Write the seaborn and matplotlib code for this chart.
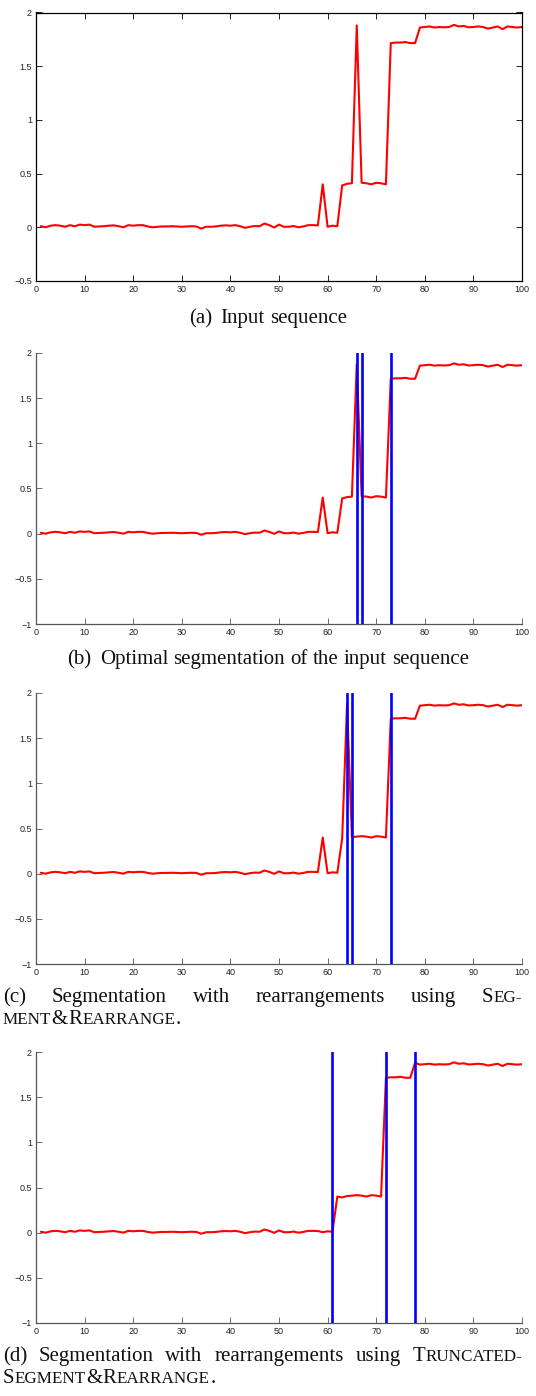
import matplotlib
matplotlib.use("Agg")
import matplotlib.pyplot as plt
import seaborn as sns
import pandas as pd

# ---------------- data ----------------
x_pos = list(range(1, 101))

seq_input = [
    0.010, 0.000, 0.015, 0.020, 0.015, 0.005, 0.020, 0.010, 0.025, 0.020,
    0.025, 0.005, 0.008, 0.010, 0.015, 0.018, 0.010, 0.000, 0.020, 0.015,
    0.020, 0.020, 0.008, 0.000, 0.005, 0.008, 0.008, 0.010, 0.008, 0.005,
    0.008, 0.010, 0.008, -0.012, 0.005, 0.005, 0.008, 0.015, 0.018, 0.015,
    0.020, 0.010, -0.005, 0.005, 0.012, 0.010, 0.035, 0.020, -0.002, 0.025,
    0.005, 0.005, 0.012, 0.000, 0.008, 0.020, 0.020, 0.018, 0.400, 0.005,
    0.015, 0.010, 0.390, 0.405, 0.410, 1.880, 0.415, 0.410, 0.400, 0.415,
    0.410, 0.400, 1.715, 1.720, 1.720, 1.725, 1.715, 1.715, 1.860, 1.865,
    1.870, 1.860, 1.865, 1.862, 1.865, 1.885, 1.870, 1.875, 1.862, 1.865,
    1.870, 1.865, 1.850, 1.860, 1.870, 1.845, 1.870, 1.865, 1.860, 1.865,
]

seq_seg_rearrange = [
    0.010, 0.000, 0.015, 0.020, 0.015, 0.005, 0.020, 0.010, 0.025, 0.020,
    0.025, 0.005, 0.008, 0.010, 0.015, 0.018, 0.010, 0.000, 0.020, 0.015,
    0.020, 0.020, 0.008, 0.000, 0.005, 0.008, 0.008, 0.010, 0.008, 0.005,
    0.008, 0.010, 0.008, -0.012, 0.005, 0.005, 0.008, 0.015, 0.018, 0.015,
    0.020, 0.010, -0.005, 0.005, 0.012, 0.010, 0.035, 0.020, -0.002, 0.025,
    0.005, 0.005, 0.012, 0.000, 0.008, 0.020, 0.020, 0.018, 0.400, 0.005,
    0.015, 0.010, 0.390, 1.880, 0.405, 0.410, 0.415, 0.410, 0.400, 0.415,
    0.410, 0.400, 1.715, 1.720, 1.720, 1.725, 1.715, 1.715, 1.860, 1.865,
    1.870, 1.860, 1.865, 1.862, 1.865, 1.885, 1.870, 1.875, 1.862, 1.865,
    1.870, 1.865, 1.850, 1.860, 1.870, 1.845, 1.870, 1.865, 1.860, 1.865,
]

seq_truncated = [
    0.010, 0.000, 0.015, 0.020, 0.015, 0.005, 0.020, 0.010, 0.025, 0.020,
    0.025, 0.005, 0.008, 0.010, 0.015, 0.018, 0.010, 0.000, 0.020, 0.015,
    0.020, 0.020, 0.008, 0.000, 0.005, 0.008, 0.008, 0.010, 0.008, 0.005,
    0.008, 0.010, 0.008, -0.012, 0.005, 0.005, 0.008, 0.015, 0.018, 0.015,
    0.020, 0.010, -0.005, 0.005, 0.012, 0.010, 0.035, 0.020, -0.002, 0.025,
    0.005, 0.005, 0.012, 0.000, 0.008, 0.020, 0.020, 0.018, 0.005, 0.015,
    0.010, 0.400, 0.390, 0.405, 0.410, 0.415, 0.410, 0.400, 0.415, 0.410,
    0.400, 1.715, 1.720, 1.720, 1.725, 1.715, 1.715, 1.880, 1.860, 1.865,
    1.870, 1.860, 1.865, 1.862, 1.865, 1.885, 1.870, 1.875, 1.862, 1.865,
    1.870, 1.865, 1.850, 1.860, 1.870, 1.845, 1.870, 1.865, 1.860, 1.865,
]

bounds_optimal = [66, 67, 73]
bounds_seg_rearrange = [64, 65, 73]
bounds_truncated = [61, 72, 78]

x_ticks = [0, 10, 20, 30, 40, 50, 60, 70, 80, 90, 100]
x_tick_labels = ["0", "10", "20", "30", "40", "50", "60", "70", "80", "90", "100"]
y_ticks_a = [-0.5, 0, 0.5, 1, 1.5, 2]
y_tick_labels_a = ["\u22120.5", "0", "0.5", "1", "1.5", "2"]
y_ticks_b = [-1, -0.5, 0, 0.5, 1, 1.5, 2]
y_tick_labels_b = ["\u22121", "\u22120.5", "0", "0.5", "1", "1.5", "2"]

# ---------------- figure ----------------
sns.set_theme(style="white")
plt.rcParams["font.family"] = ["Liberation Sans", "DejaVu Sans"]

W, H = 536, 1396
fig = plt.figure(figsize=(W / 100, H / 100), dpi=100)
fig.patch.set_facecolor("white")


def add_ax(l, r, t, b):
    return fig.add_axes([l / W, 1 - b / H, (r - l) / W, (b - t) / H])


panels = [
    dict(rect=(36, 522, 12.5, 281), y=seq_input, bounds=[], box=True,
         ylim=(-0.5, 2), yt=y_ticks_a, ytl=y_tick_labels_a),
    dict(rect=(36, 522, 353, 624), y=seq_input, bounds=bounds_optimal, box=False,
         ylim=(-1, 2), yt=y_ticks_b, ytl=y_tick_labels_b),
    dict(rect=(36, 522, 693, 964), y=seq_seg_rearrange, bounds=bounds_seg_rearrange, box=False,
         ylim=(-1, 2), yt=y_ticks_b, ytl=y_tick_labels_b),
    dict(rect=(36, 522, 1052, 1323), y=seq_truncated, bounds=bounds_truncated, box=False,
         ylim=(-1, 2), yt=y_ticks_b, ytl=y_tick_labels_b),
]

for p in panels:
    ax = add_ax(*p["rect"])
    ax.set_facecolor("white")
    df = pd.DataFrame({"x": x_pos, "y": p["y"]})
    sns.lineplot(data=df, x="x", y="y", ax=ax, color="#ff0000", linewidth=1.5, zorder=2)
    for b in p["bounds"]:
        ax.axvline(b, color="#0000ff", linewidth=1.9, zorder=3)
    ax.set_xlim(0, 100)
    ax.set_ylim(*p["ylim"])
    ax.set_xticks(x_ticks)
    ax.set_xticklabels(x_tick_labels)
    ax.set_yticks(p["yt"])
    ax.set_yticklabels(p["ytl"])
    ax.set_xlabel("")
    ax.set_ylabel("")
    ax.grid(False)
    if p["box"]:
        spine_col = "#000000"
        for s in ax.spines.values():
            s.set_visible(True)
            s.set_color(spine_col)
            s.set_linewidth(0.9)
        ax.tick_params(top=True, right=True)
    else:
        spine_col = "#555555"
        ax.spines["top"].set_visible(False)
        ax.spines["right"].set_visible(False)
        for k in ("left", "bottom"):
            ax.spines[k].set_color(spine_col)
            ax.spines[k].set_linewidth(0.9)
    ax.tick_params(axis="both", direction="in", length=4, width=0.6,
                   color=spine_col, labelsize=6.5, labelcolor="#222222", pad=3,
                   left=True, bottom=True)

# ---------------- captions ----------------
renderer = fig.canvas.get_renderer()
SERIF = ["Liberation Serif", "DejaVu Serif"]
CAP = 15.0
SC = 0.82
PGAP = 0.3


def piece_width(s, size):
    t = fig.text(0, 0, s, fontsize=size, family=SERIF)
    w = t.get_window_extent(renderer).width
    t.remove()
    return w


def word_width(word):
    return sum(piece_width(s, CAP * sc) for s, sc in word) + PGAP * (len(word) - 1)


def draw_word(word, x_px, y_px):
    x = x_px
    for s, sc in word:
        fig.text(x / W, 1 - y_px / H, s, fontsize=CAP * sc, family=SERIF,
                 color="#111111", ha="left", va="baseline")
        x += piece_width(s, CAP * sc) + PGAP


def draw_line(words, y_px, mode, left=3.0, right=522.0, center=268.0, gaps=None):
    ws = [word_width(w) for w in words]
    space = 0.25 * CAP * 100 / 72
    if gaps is None:
        gaps = [space] * (len(words) - 1)
    if mode == "justify":
        g = (right - left - sum(ws)) / (len(words) - 1)
        gaps = [g] * (len(words) - 1)
        x = left
    elif mode == "left":
        x = left
    else:
        total = sum(ws) + sum(gaps)
        x = center - total / 2
    for i, w in enumerate(words):
        draw_word(w, x, y_px)
        x += ws[i] + (gaps[i] if i < len(gaps) else 0)


def plain(*ws):
    return [[(w, 1.0)] for w in ws]


space = 0.25 * CAP * 100 / 72
cap_a = plain("(a)", "Input", "sequence")
draw_line(cap_a, 323, "center", gaps=[space * 1.6, space])
cap_b = plain("(b)", "Optimal", "segmentation", "of", "the", "input", "sequence")
draw_line(cap_b, 664, "center", gaps=[space * 1.6] + [space] * 5)

cap_c1 = plain("(c)", "Segmentation", "with", "rearrangements", "using") + [[("S", 1.0), ("EG-", SC)]]
cap_c2 = [[("MENT", SC), ("&", 1.0), ("R", 1.0), ("EARRANGE", SC), (".", 1.0)]]
draw_line(cap_c1, 1002, "justify")
draw_line(cap_c2, 1024, "left")

cap_d1 = plain("(d)", "Segmentation", "with", "rearrangements", "using") + [[("T", 1.0), ("RUNCATED-", SC)]]
cap_d2 = [[("S", 1.0), ("EGMENT", SC), ("&", 1.0), ("R", 1.0), ("EARRANGE", SC), (".", 1.0)]]
draw_line(cap_d1, 1361, "justify")
draw_line(cap_d2, 1383, "left")

fig.savefig("out.png", dpi=100, facecolor="white")
